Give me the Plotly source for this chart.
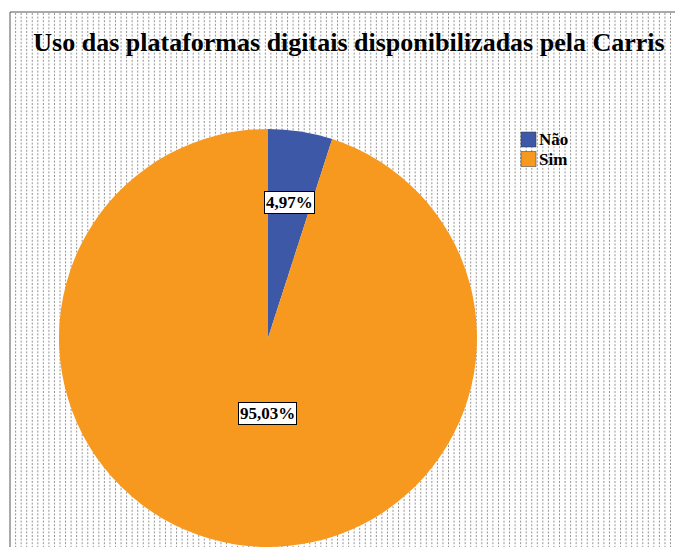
import math
import plotly.graph_objects as go

# Survey answers and their shares (%)
categories = ["Não", "Sim"]
shares = [4.97, 95.03]
slice_colors = ["#3E58A8", "#F7991F"]
title_text = "Uso das plataformas digitais disponibilizadas pela Carris"

W, H = 675, 547
SERIF = "Liberation Serif, Times New Roman, serif"


def px(x):
    return x / W


def py(y):
    return 1 - y / H


# Pie geometry in pixels
cx, cy, r = 268, 338, 209

fig = go.Figure()

fig.add_trace(go.Pie(
    labels=categories,
    values=shares,
    marker=dict(colors=slice_colors, line=dict(width=0)),
    sort=False,
    direction="clockwise",
    rotation=0,
    textinfo="none",
    hoverinfo="label+percent",
    showlegend=False,
    domain=dict(x=[px(cx - r), px(cx + r)], y=[py(cy + r), py(cy - r)]),
))

shapes = []
# Dotted hatch background inside the frame
xline = 15.6
while xline < W:
    shapes.append(dict(
        type="line", xref="paper", yref="paper", layer="below",
        x0=px(xline), x1=px(xline), y0=py(13), y1=py(H),
        line=dict(color="#959595", width=1, dash="2px,1.6px"),
    ))
    xline += 5.55

# Chart frame: only the left and top edges lie on the page
shapes.append(dict(
    type="line", xref="paper", yref="paper", layer="below",
    x0=px(10), x1=px(10), y0=py(12), y1=py(H),
    line=dict(color="#555555", width=1),
))
shapes.append(dict(
    type="line", xref="paper", yref="paper", layer="below",
    x0=px(10), x1=px(W), y0=py(12), y1=py(12),
    line=dict(color="#555555", width=1),
))

annotations = []
# Percentage labels: radial distance and a sideways shift (px) per slice
label_radius = [0.655, 0.367]
label_shift = [0, 11]
start = 0.0
total = sum(shares)
for v, f, s in zip(shares, label_radius, label_shift):
    frac = v / total
    mid = (start + frac / 2) * 2 * math.pi
    start += frac
    lx = cx + f * r * math.sin(mid) + s
    ly = cy - f * r * math.cos(mid)
    annotations.append(dict(
        x=px(lx), y=py(ly), xref="paper", yref="paper",
        text=f"{v:.2f}%".replace(".", ","), showarrow=False,
        font=dict(family=SERIF, size=17, color="black", weight="bold"),
        bgcolor="white", bordercolor="black", borderwidth=1, borderpad=1,
        xanchor="center", yanchor="middle",
    ))

# Legend: colour squares with category names
for i, (name, col) in enumerate(zip(categories, slice_colors)):
    top = 132 + i * 19.5
    shapes.append(dict(
        type="rect", xref="paper", yref="paper",
        x0=px(521), x1=px(536), y0=py(top + 15), y1=py(top),
        fillcolor=col, line=dict(color="#333333", width=0.5),
    ))
    annotations.append(dict(
        x=px(537), y=py(top + 7.5), xref="paper", yref="paper",
        text=name, showarrow=False, xanchor="left", yanchor="middle",
        font=dict(family=SERIF, size=17, color="black", weight="bold"),
    ))

fig.update_layout(
    width=W, height=H,
    margin=dict(l=0, r=0, t=0, b=0),
    paper_bgcolor="white",
    plot_bgcolor="white",
    title=dict(
        text=title_text, x=px(349), xanchor="center",
        y=py(42), yanchor="middle",
        font=dict(family=SERIF, size=26, color="black", weight="bold"),
    ),
    shapes=shapes,
    annotations=annotations,
    showlegend=False,
)

fig.write_html("out.html")
